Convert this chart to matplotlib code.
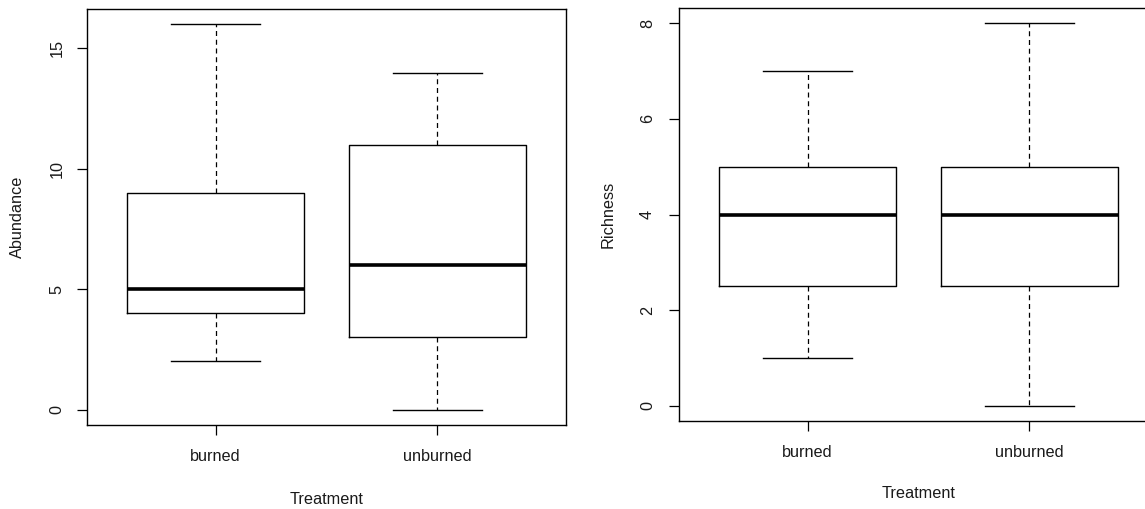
import matplotlib
matplotlib.use("Agg")
import matplotlib.pyplot as plt

plt.rcParams["font.family"] = ["Liberation Sans", "DejaVu Sans"]

treatments = ["burned", "unburned"]

# five-number summaries: low whisker, q1, median, q3, high whisker
abund_low = [2, 0]
abund_q1 = [4, 3]
abund_med = [5, 6]
abund_q3 = [9, 11]
abund_high = [16, 14]

rich_low = [1, 0]
rich_q1 = [2.5, 2.5]
rich_med = [4, 4]
rich_q3 = [5, 5]
rich_high = [7, 8]

abund_ticks = [0, 5, 10, 15]
rich_ticks = [0, 2, 4, 6, 8]

W, H = 1145, 509
TXT = "#1a1a1a"


def _stats(low, q1, med, q3, high):
    return [
        dict(whislo=a, q1=b, med=c, q3=d, whishi=e, fliers=[])
        for a, b, c, d, e in zip(low, q1, med, q3, high)
    ]


def _panel(fig, rect, stats, ticks, ylabel, ylim, ylab_x, xlab_y, ypad):
    ax = fig.add_axes(rect)
    ax.bxp(
        stats,
        positions=[1, 2],
        widths=0.8,
        patch_artist=False,
        showfliers=False,
        boxprops=dict(color="black", linewidth=1.0),
        medianprops=dict(color="black", linewidth=2.6, solid_capstyle="butt"),
        whiskerprops=dict(color="black", linewidth=0.9, linestyle=(0, (4, 3))),
        capprops=dict(color="black", linewidth=1.0),
        capwidths=0.4,
    )
    ax.set_xlim(0.42, 2.58)
    ax.set_ylim(*ylim)
    ax.set_xticks([1, 2])
    ax.set_xticklabels(treatments)
    ax.set_yticks(ticks)
    ax.set_yticklabels([str(t) for t in ticks])
    ax.tick_params(axis="both", direction="out", length=7.2, width=0.9,
                   colors="black", labelsize=11.7, labelcolor=TXT)
    ax.tick_params(axis="x", pad=15.5)
    ax.tick_params(axis="y", pad=ypad)
    for lab in ax.get_xticklabels():
        lab.set_va("center")
    for lab in ax.get_yticklabels():
        lab.set_rotation(90)
        lab.set_ha("center")
        lab.set_va("center")
    for sp in ax.spines.values():
        sp.set_linewidth(1.0)
        sp.set_color("black")
    ax.set_ylabel(ylabel, fontsize=11.7, color=TXT, va="center")
    ax.yaxis.set_label_coords(ylab_x, 0.5)
    ax.set_xlabel("Treatment", fontsize=11.7, color=TXT, va="center")
    ax.xaxis.set_label_coords(0.5, xlab_y)
    return ax


fig = plt.figure(figsize=(W / 100, H / 100), dpi=100)
fig.patch.set_facecolor("white")

_panel(
    fig,
    [87 / W, (H - 425) / H, 479 / W, 416 / H],
    _stats(abund_low, abund_q1, abund_med, abund_q3, abund_high),
    abund_ticks,
    "Abundance",
    (-0.64, 16.64),
    -(87 - 17) / 479,
    -(499 - 425) / 416,
    14.4,
)
_panel(
    fig,
    [679 / W, (H - 421) / H, 479 / W, 413 / H],
    _stats(rich_low, rich_q1, rich_med, rich_q3, rich_high),
    rich_ticks,
    "Richness",
    (-0.32, 8.32),
    -(679 - 608) / 479,
    -(493 - 421) / 413,
    15.5,
)

fig.savefig("out.png", dpi=100)
